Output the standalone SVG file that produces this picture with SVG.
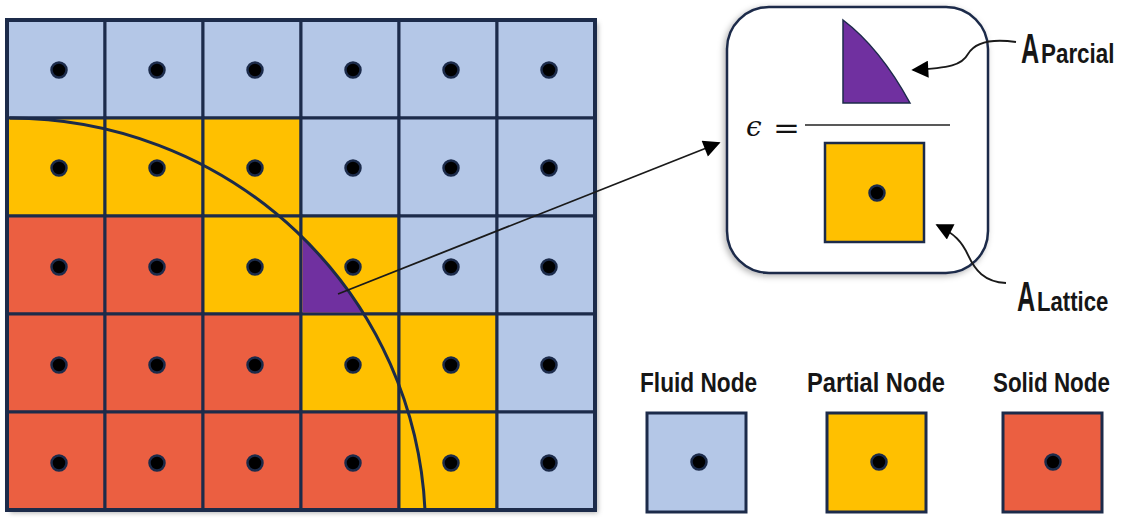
<svg xmlns="http://www.w3.org/2000/svg" xmlns:xlink="http://www.w3.org/1999/xlink" width="1122" height="518" viewBox="0 0 1122 518">
<style>
.f{fill:#B4C7E7}.p{fill:#FFC000}.s{fill:#EB5F41}
.c{stroke:#1C2B4A;stroke-width:3}
.dot{fill:#000;stroke:#1C2B4A;stroke-width:2.5}
.lbl{font-family:"Liberation Sans",Arial,sans-serif;font-weight:bold;fill:#161616}
.conn{fill:none;stroke:#1a1a1a;stroke-width:1.8}
</style>
<defs>
<filter id="sh" x="-10%" y="-10%" width="120%" height="120%">
<feDropShadow dx="3" dy="3" stdDeviation="2.5" flood-color="#000" flood-opacity="0.3"/>
</filter>
<filter id="sh2" x="-10%" y="-10%" width="120%" height="120%">
<feDropShadow dx="-2" dy="2" stdDeviation="3" flood-color="#000" flood-opacity="0.3"/>
</filter>
<circle id="d" r="7.5" class="dot"/>
<marker id="ahb" viewBox="0 0 10 10" refX="9" refY="5" markerWidth="22" markerHeight="17" markerUnits="userSpaceOnUse" orient="auto">
<path d="M0,0 L10,5 L0,10 z" fill="#000"/>
</marker>
</defs>

<g id="grid">
<rect x="7" y="20" width="588" height="490" fill="#fff" filter="url(#sh)"/>
<g class="c">
<rect class="f" x="7" y="20" width="98" height="98"/>
<rect class="f" x="105" y="20" width="98" height="98"/>
<rect class="f" x="203" y="20" width="98" height="98"/>
<rect class="f" x="301" y="20" width="98" height="98"/>
<rect class="f" x="399" y="20" width="98" height="98"/>
<rect class="f" x="497" y="20" width="98" height="98"/>

<rect class="p" x="7" y="118" width="98" height="98"/>
<rect class="p" x="105" y="118" width="98" height="98"/>
<rect class="p" x="203" y="118" width="98" height="98"/>
<rect class="f" x="301" y="118" width="98" height="98"/>
<rect class="f" x="399" y="118" width="98" height="98"/>
<rect class="f" x="497" y="118" width="98" height="98"/>

<rect class="s" x="7" y="216" width="98" height="98"/>
<rect class="s" x="105" y="216" width="98" height="98"/>
<rect class="p" x="203" y="216" width="98" height="98"/>
<rect class="p" x="301" y="216" width="98" height="98"/>
<rect class="f" x="399" y="216" width="98" height="98"/>
<rect class="f" x="497" y="216" width="98" height="98"/>

<rect class="s" x="7" y="314" width="98" height="98"/>
<rect class="s" x="105" y="314" width="98" height="98"/>
<rect class="s" x="203" y="314" width="98" height="98"/>
<rect class="p" x="301" y="314" width="98" height="98"/>
<rect class="p" x="399" y="314" width="98" height="98"/>
<rect class="f" x="497" y="314" width="98" height="98"/>

<rect class="s" x="7" y="412" width="98" height="98"/>
<rect class="s" x="105" y="412" width="98" height="98"/>
<rect class="s" x="203" y="412" width="98" height="98"/>
<rect class="s" x="301" y="412" width="98" height="98"/>
<rect class="p" x="399" y="412" width="98" height="98"/>
<rect class="f" x="497" y="412" width="98" height="98"/>
</g>
<path id="partial-area" d="M302.5,236.9 L302.5,312.5 L363.8,312.5 A415.5,412 0 0 0 302.5,236.9 Z" fill="#7030A0"/>
<g id="dots">
<use xlink:href="#d" x="59" y="70"/><use xlink:href="#d" x="157" y="70"/><use xlink:href="#d" x="255" y="70"/><use xlink:href="#d" x="353" y="70"/><use xlink:href="#d" x="451" y="70"/><use xlink:href="#d" x="549" y="70"/>
<use xlink:href="#d" x="59" y="168"/><use xlink:href="#d" x="157" y="168"/><use xlink:href="#d" x="255" y="168"/><use xlink:href="#d" x="353" y="168"/><use xlink:href="#d" x="451" y="168"/><use xlink:href="#d" x="549" y="168"/>
<use xlink:href="#d" x="59" y="267"/><use xlink:href="#d" x="157" y="267"/><use xlink:href="#d" x="255" y="267"/><use xlink:href="#d" x="353" y="267"/><use xlink:href="#d" x="451" y="267"/><use xlink:href="#d" x="549" y="267"/>
<use xlink:href="#d" x="59" y="365"/><use xlink:href="#d" x="157" y="365"/><use xlink:href="#d" x="255" y="365"/><use xlink:href="#d" x="353" y="365"/><use xlink:href="#d" x="451" y="365"/><use xlink:href="#d" x="549" y="365"/>
<use xlink:href="#d" x="59" y="463"/><use xlink:href="#d" x="157" y="463"/><use xlink:href="#d" x="255" y="463"/><use xlink:href="#d" x="353" y="463"/><use xlink:href="#d" x="451" y="463"/><use xlink:href="#d" x="549" y="463"/>
</g>
<path id="boundary" d="M10,118 A415.5,412 0 0 1 425,510" fill="none" stroke="#1C2B4A" stroke-width="3"/>
<rect x="7" y="20" width="588" height="490" fill="none" stroke="#1C2B4A" stroke-width="4"/>
</g>

<g id="formula">
<rect x="727" y="7" width="261" height="266" rx="42" fill="#fff" stroke="#1C2B4A" stroke-width="2.5" filter="url(#sh2)"/>
<path d="M843,20 L843,103 L910,103 Q880,48 843,20 Z" fill="#7030A0" stroke="#1C2B4A" stroke-width="1.5"/>
<text x="746" y="136" font-family="DejaVu Serif,serif" font-style="italic" font-size="28" fill="#111">ϵ</text>
<text x="773" y="138" font-family="DejaVu Serif,serif" font-size="30" fill="#111" textLength="27" lengthAdjust="spacingAndGlyphs">=</text>
<line x1="805" y1="125" x2="950" y2="125" stroke="#222" stroke-width="1.6"/>
<rect x="825" y="143" width="99" height="99" class="p" stroke="#1C2B4A" stroke-width="2.5"/>
<use xlink:href="#d" x="877" y="193"/>
</g>

<g id="label-parcial">
<text class="lbl" font-size="42" transform="translate(1021,63) scale(0.6,1)">A</text>
<text class="lbl" font-size="28" transform="translate(1041,63) scale(0.8,1)">Parcial</text>
</g>
<g id="label-lattice">
<text class="lbl" font-size="42" transform="translate(1017,311) scale(0.6,1)">A</text>
<text class="lbl" font-size="28" transform="translate(1037,311) scale(0.79,1)">Lattice</text>
</g>

<g id="connectors">
<path class="conn" d="M338,294 L719,143" marker-end="url(#ahb)"/>
<path class="conn" d="M1016,42 C988,38 974,44 968,54 C962,65 950,68 913,70" marker-end="url(#ahb)"/>
<path class="conn" d="M1006,283 C984,282 975,270 968,255 C962,242 955,234 937,225" marker-end="url(#ahb)"/>
</g>

<g id="legend-fluid">
<text class="lbl" font-size="28" transform="translate(640,392) scale(0.81,1)">Fluid Node</text>
<rect x="647" y="413" width="99" height="99" class="f c"/>
<use xlink:href="#d" x="699" y="462"/>
</g>
<g id="legend-partial">
<text class="lbl" font-size="28" transform="translate(807,392) scale(0.845,1)">Partial Node</text>
<rect x="827" y="413" width="99" height="99" class="p c"/>
<use xlink:href="#d" x="879" y="462"/>
</g>
<g id="legend-solid">
<text class="lbl" font-size="28" transform="translate(993,392) scale(0.8,1)">Solid Node</text>
<rect x="1003" y="413" width="99" height="99" class="s c"/>
<use xlink:href="#d" x="1053" y="462"/>
</g>
</svg>
